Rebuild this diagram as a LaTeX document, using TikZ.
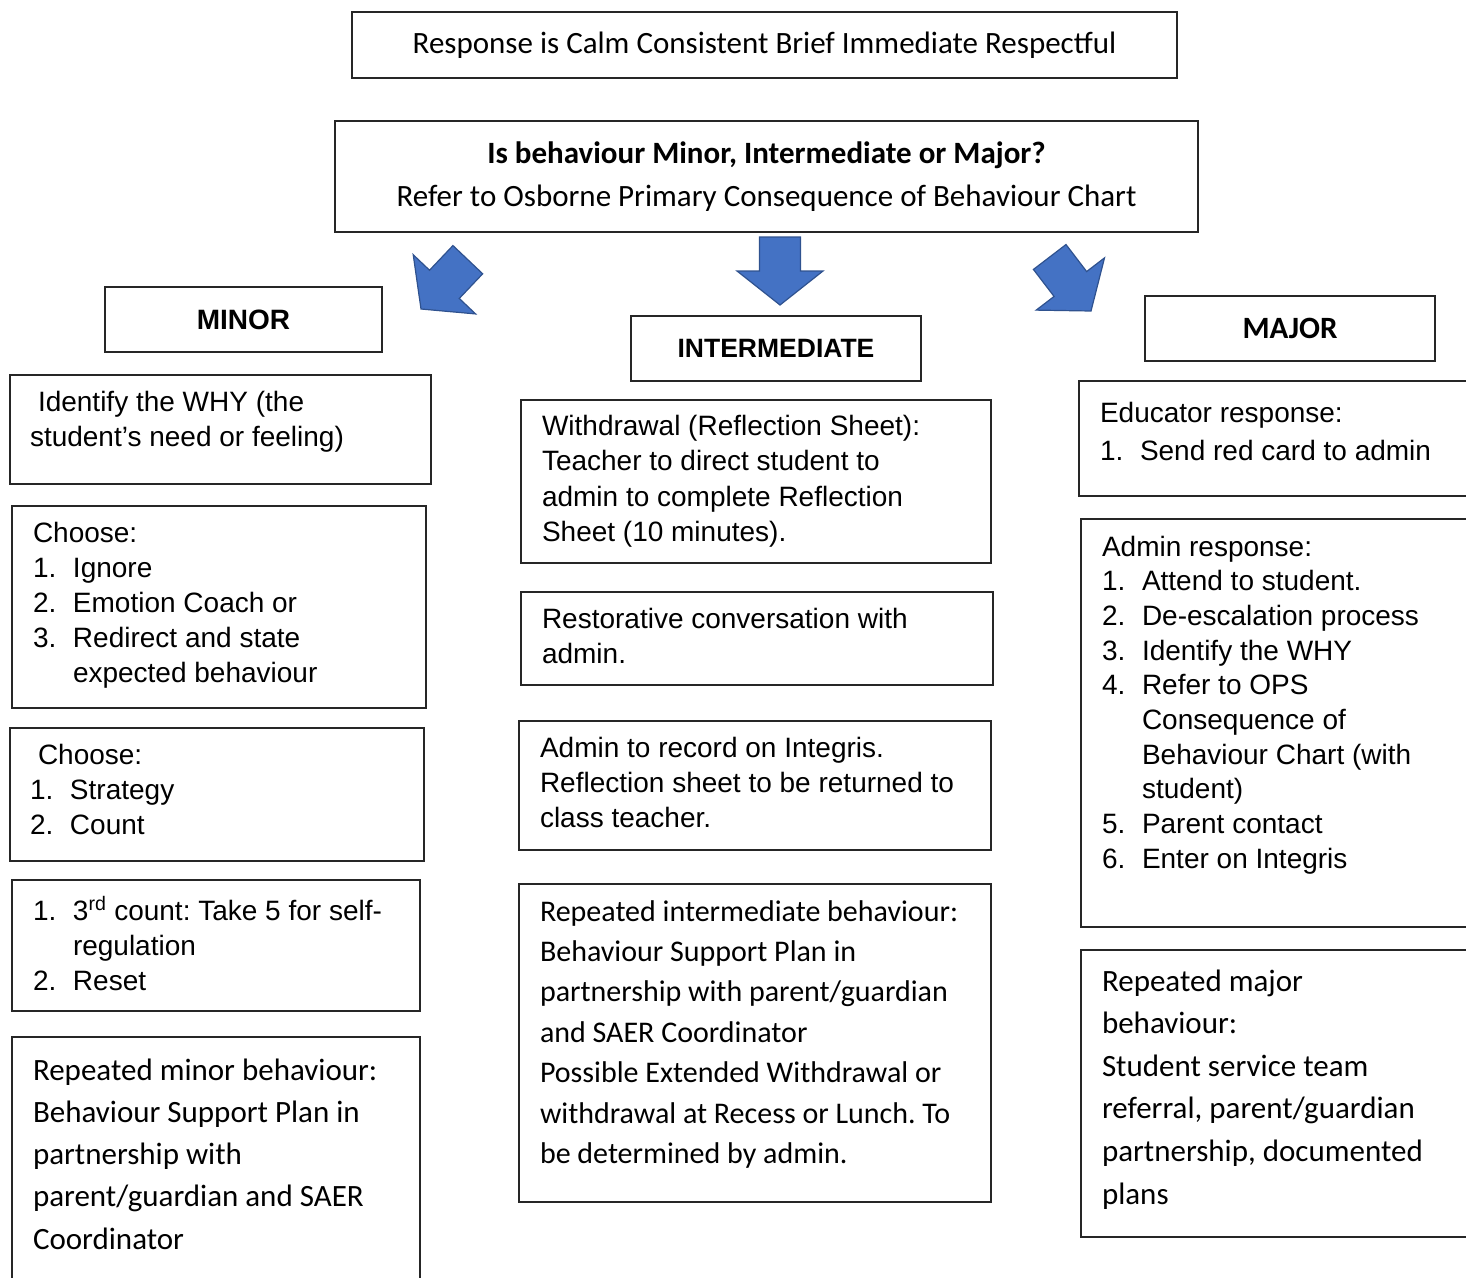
\documentclass[tikz,border=0pt]{standalone}
\usepackage{fontspec}
\usepackage{xcolor}
\newfontfamily\arialfont{Liberation Sans}
\newfontfamily\califont{Carlito}
\newcommand{\numlabel}[1]{\makebox[40pt][l]{#1}}
\definecolor{arrowblue}{HTML}{4472C4}
\definecolor{arrowedge}{HTML}{2F528F}
\frenchspacing

\begin{document}
\begin{tikzpicture}[x=1pt, y=1pt,
    panel/.style={draw=black!85, line width=1.8pt, anchor=north west, outer sep=0pt,
                  inner ysep=0pt, inner xsep=21pt, align=flush left},
    arialtext/.style={font=\arialfont\fontsize{28}{35}\selectfont},
    calitext/.style={font=\califont\fontsize{31}{42.3}\selectfont},
    heading/.style={draw=black!85, line width=1.8pt, outer sep=0pt, minimum height=65pt},
    blockarrow/.pic={
        \filldraw[fill=arrowblue, draw=arrowedge, line width=1.2pt]
            (0,0) -- (-34,43) -- (-34,20.5) -- (-68,20.5) -- (-68,-20.5)
            -- (-34,-20.5) -- (-34,-43) -- cycle;
    }]
    % Page
    \useasboundingbox (0,0) rectangle (1466,-1277);
    \clip (0,0) rectangle (1466,-1277);

    % Top
    \node[heading, calitext, minimum width=825pt, minimum height=66pt] (response) at (764.5,-45)
        {Response is Calm Consistent Brief Immediate Respectful};
    \node[heading, font=\califont\fontsize{31}{43}\selectfont, text width=830pt, align=flush center,
          minimum width=863pt, minimum height=111pt, inner xsep=16pt] (question) at (766.5,-176.5)
        {\textbf{Is behaviour Minor, Intermediate or Major?}\\
         Refer to Osborne Primary Consequence of Behaviour Chart};

    % Block arrows
    \pic[rotate=-133.5] at (421,-309) {blockarrow};
    \pic[rotate=-90] at (780,-305) {blockarrow};
    \pic[rotate=-52.6] at (1091,-311) {blockarrow};

    % Column headings
    \node[heading, font=\arialfont\bfseries\fontsize{28}{34}\selectfont, minimum width=277pt]
        (minor) at (243.5,-319.5) {MINOR};
    \node[heading, font=\arialfont\bfseries\fontsize{26.5}{34}\selectfont, minimum width=290pt]
        (intermediate) at (776,-348.5) {INTERMEDIATE};
    \node[heading, font=\califont\bfseries\fontsize{31}{38}\selectfont, minimum width=290pt]
        (major) at (1290,-328.5) {MAJOR};

    % Minor column
    \node[panel, arialtext, inner xsep=20pt, text width=381pt, text height=36pt, text depth=73pt]
        (why) at (10,-375)
        {\hspace*{8pt}Identify the WHY (the\\ student’s need or feeling)};
    \node[panel, arialtext, text width=372pt, text height=36pt, text depth=166pt]
        (choosea) at (12,-506)
        {Choose:\\ \numlabel{1.}Ignore\\ \numlabel{2.}Emotion Coach or\\
         \numlabel{3.}Redirect and state\\ \numlabel{}expected behaviour};
    \node[panel, arialtext, inner xsep=20pt, text width=374pt, text height=36pt, text depth=97pt]
        (chooseb) at (10,-728)
        {\hspace*{8pt}Choose:\\ \numlabel{1.}Strategy\\ \numlabel{2.}Count};
    \node[panel, arialtext, text width=366pt, text height=40pt, text depth=91pt]
        (takefive) at (12,-880)
        {\numlabel{1.}3\textsuperscript{rd} count: Take 5 for self-\\
         \numlabel{}regulation\\ \numlabel{2.}Reset};
    \node[panel, calitext, text width=366pt, text height=43pt, text depth=300pt]
        (repminor) at (12,-1037)
        {Repeated minor behaviour:\\ Behaviour Support Plan in\\ partnership with\\
         parent/guardian and SAER\\ Coordinator};

    % Intermediate column
    \node[panel, font=\arialfont\fontsize{28}{35.5}\selectfont, text width=428pt, text height=35pt, text depth=128pt]
        (withdrawal) at (521,-400)
        {Withdrawal (Reflection Sheet):\\ Teacher to direct student to\\
         admin to complete Reflection\\ Sheet (10 minutes).};
    \node[panel, arialtext, text width=430pt, text height=36pt, text depth=57pt]
        (restorative) at (521,-592)
        {Restorative conversation with\\ admin.};
    \node[panel, arialtext, text width=430pt, text height=36pt, text depth=93pt]
        (record) at (519,-721)
        {Admin to record on Integris.\\ Reflection sheet to be returned to\\ class teacher.};
    \node[panel, font=\califont\fontsize{30}{40.4}\selectfont, text width=430pt, text height=37pt, text depth=281pt]
        (repinter) at (519,-884)
        {Repeated intermediate behaviour:\\ Behaviour Support Plan in\\
         partnership with parent/guardian\\ and SAER Coordinator\\
         Possible Extended Withdrawal or\\ withdrawal at Recess or Lunch. To\\
         be determined by admin.};

    % Major column
    \node[panel, font=\arialfont\fontsize{28}{38}\selectfont, text width=408pt, text height=41pt, text depth=74pt]
        (educator) at (1079,-381)
        {Educator response:\\ \numlabel{1.}Send red card to admin};
    \node[panel, font=\arialfont\fontsize{28}{34.7}\selectfont, text width=408pt, text height=37pt, text depth=371pt]
        (adminresp) at (1081,-519)
        {Admin response:\\ \numlabel{1.}Attend to student.\\ \numlabel{2.}De-escalation process\\
         \numlabel{3.}Identify the WHY\\ \numlabel{4.}Refer to OPS\\ \numlabel{}Consequence of\\
         \numlabel{}Behaviour Chart (with\\ \numlabel{}student)\\ \numlabel{5.}Parent contact\\
         \numlabel{6.}Enter on Integris};
    \node[panel, font=\califont\fontsize{31}{42.6}\selectfont, text width=408pt, text height=41pt, text depth=246pt]
        (repmajor) at (1081,-950)
        {Repeated major\\ behaviour:\\ Student service team\\ referral, parent/guardian\\
         partnership, documented\\ plans};
\end{tikzpicture}
\end{document}
